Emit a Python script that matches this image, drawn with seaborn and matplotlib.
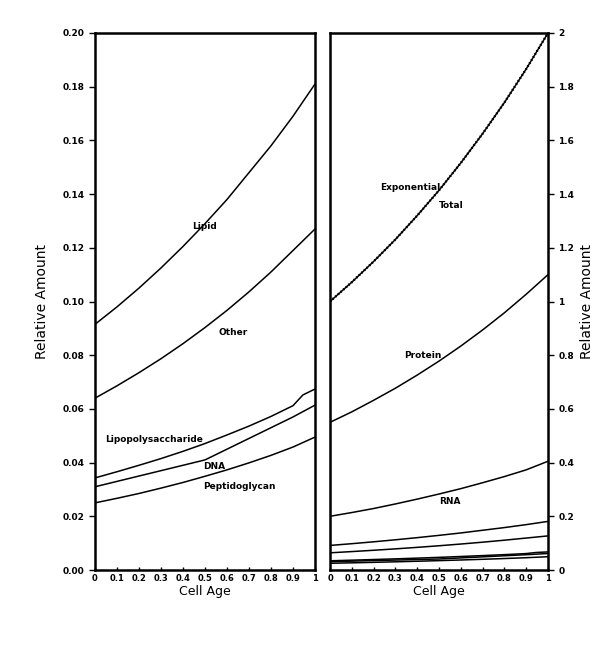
import matplotlib
matplotlib.use("Agg")
import matplotlib.pyplot as plt
import numpy as np
import pandas as pd
import seaborn as sns

# cell age sampled every 0.1
age = [0.0, 0.1, 0.2, 0.3, 0.4, 0.5, 0.6, 0.7, 0.8, 0.9, 1.0]

# minor components (left panel, also drawn at the bottom of the right panel)
lipid = [0.0915, 0.098, 0.105, 0.1125, 0.1205, 0.129, 0.138, 0.148, 0.158, 0.169, 0.181]
other = [0.064, 0.0686, 0.0735, 0.0787, 0.0843, 0.0903, 0.0967, 0.1036, 0.111, 0.119, 0.127]
lps_age = [0.0, 0.1, 0.2, 0.3, 0.4, 0.5, 0.6, 0.7, 0.8, 0.9, 0.945, 1.0]
lps = [0.0343, 0.0366, 0.039, 0.0415, 0.0442, 0.0471, 0.0503, 0.0536, 0.0572, 0.0612, 0.0652, 0.0674]
dna = [0.031, 0.033, 0.035, 0.037, 0.039, 0.041, 0.045, 0.049, 0.053, 0.057, 0.0614]
peptidoglycan = [0.025, 0.0267, 0.0285, 0.0305, 0.0326, 0.0349, 0.0373, 0.0399, 0.0427, 0.0458, 0.0495]

# major components (right panel)
protein = [0.55, 0.589, 0.632, 0.677, 0.726, 0.778, 0.834, 0.894, 0.958, 1.027, 1.10]
rna = [0.20, 0.214, 0.229, 0.246, 0.264, 0.283, 0.303, 0.325, 0.348, 0.373, 0.405]
total = [1.00, 1.072, 1.149, 1.231, 1.320, 1.414, 1.516, 1.625, 1.741, 1.866, 2.00]

x_ticks = [0, 0.1, 0.2, 0.3, 0.4, 0.5, 0.6, 0.7, 0.8, 0.9, 1]
x_labels = ["0", "0.1", "0.2", "0.3", "0.4", "0.5", "0.6", "0.7", "0.8", "0.9", "1"]
left_ticks = [0, 0.02, 0.04, 0.06, 0.08, 0.10, 0.12, 0.14, 0.16, 0.18, 0.20]
left_labels = ["0.00", "0.02", "0.04", "0.06", "0.08", "0.10", "0.12", "0.14", "0.16", "0.18", "0.20"]
right_ticks = [0, 0.2, 0.4, 0.6, 0.8, 1.0, 1.2, 1.4, 1.6, 1.8, 2.0]
right_labels = ["0", "0.2", "0.4", "0.6", "0.8", "1", "1.2", "1.4", "1.6", "1.8", "2"]

sns.set_style("ticks")
plt.rcParams["font.family"] = ["DejaVu Sans"]
plt.rcParams["axes.edgecolor"] = "black"
plt.rcParams["xtick.color"] = "black"
plt.rcParams["ytick.color"] = "black"
plt.rcParams["text.color"] = "black"
plt.rcParams["axes.labelcolor"] = "black"

fig = plt.figure(figsize=(6.0, 6.61), dpi=100)
axL = fig.add_axes([95 / 600, 91 / 661, 220 / 600, 537 / 661])
axR = fig.add_axes([330 / 600, 91 / 661, 218 / 600, 537 / 661])

lw = 1.1
small = [(age, lipid), (age, other), (lps_age, lps), (age, dna), (age, peptidoglycan)]
for xs, ys in small:
    sns.lineplot(x=xs, y=ys, ax=axL, color="black", lw=lw, estimator=None)
    sns.lineplot(x=xs, y=ys, ax=axR, color="black", lw=lw, estimator=None)

sns.lineplot(x=age, y=protein, ax=axR, color="black", lw=lw, estimator=None)
sns.lineplot(x=age, y=rna, ax=axR, color="black", lw=lw, estimator=None)
# exponential (solid) and total (dotted) lie on top of each other
sns.lineplot(x=age, y=total, ax=axR, color="black", lw=lw, estimator=None)
sns.lineplot(x=age, y=total, ax=axR, color="black", lw=1.7, linestyle=(0, (0.6, 0.9)), estimator=None)

lab = dict(fontsize=6.5, fontweight="bold", color="black")
axL.text(0.44, 0.127, "Lipid", **lab)
axL.text(0.56, 0.0875, "Other", **lab)
axL.text(0.045, 0.0478, "Lipopolysaccharide", **lab)
axL.text(0.49, 0.0375, "DNA", **lab)
axL.text(0.49, 0.0302, "Peptidoglycan", **lab)
axR.text(0.23, 1.415, "Exponential", **lab)
axR.text(0.5, 1.35, "Total", **lab)
axR.text(0.34, 0.79, "Protein", **lab)
axR.text(0.5, 0.245, "RNA", **lab)

for ax in (axL, axR):
    ax.set_xlim(0, 1)
    ax.set_xticks(x_ticks)
    ax.set_xticklabels(x_labels, fontsize=6, fontweight="bold")
    ax.tick_params(axis="x", direction="in", length=2, width=1, pad=3)
    ax.set_xlabel("Cell Age", fontsize=9, labelpad=1)
    for s in ax.spines.values():
        s.set_linewidth(1.8)

axL.set_ylim(0, 0.2)
axL.set_yticks(left_ticks)
axL.set_yticklabels(left_labels, fontsize=6.5, fontweight="bold")
axL.tick_params(axis="y", direction="out", length=4, width=1)
axL.set_ylabel("Relative Amount", fontsize=10, labelpad=10)

axR.set_ylim(0, 2)
axR.yaxis.tick_right()
axR.yaxis.set_label_position("right")
axR.set_yticks(right_ticks)
axR.set_yticklabels(right_labels, fontsize=6.5, fontweight="bold")
axR.tick_params(axis="y", direction="out", length=4, width=1)
axR.set_ylabel("Relative Amount", fontsize=10, labelpad=4)

fig.savefig("out.png", dpi=100, facecolor="white")
